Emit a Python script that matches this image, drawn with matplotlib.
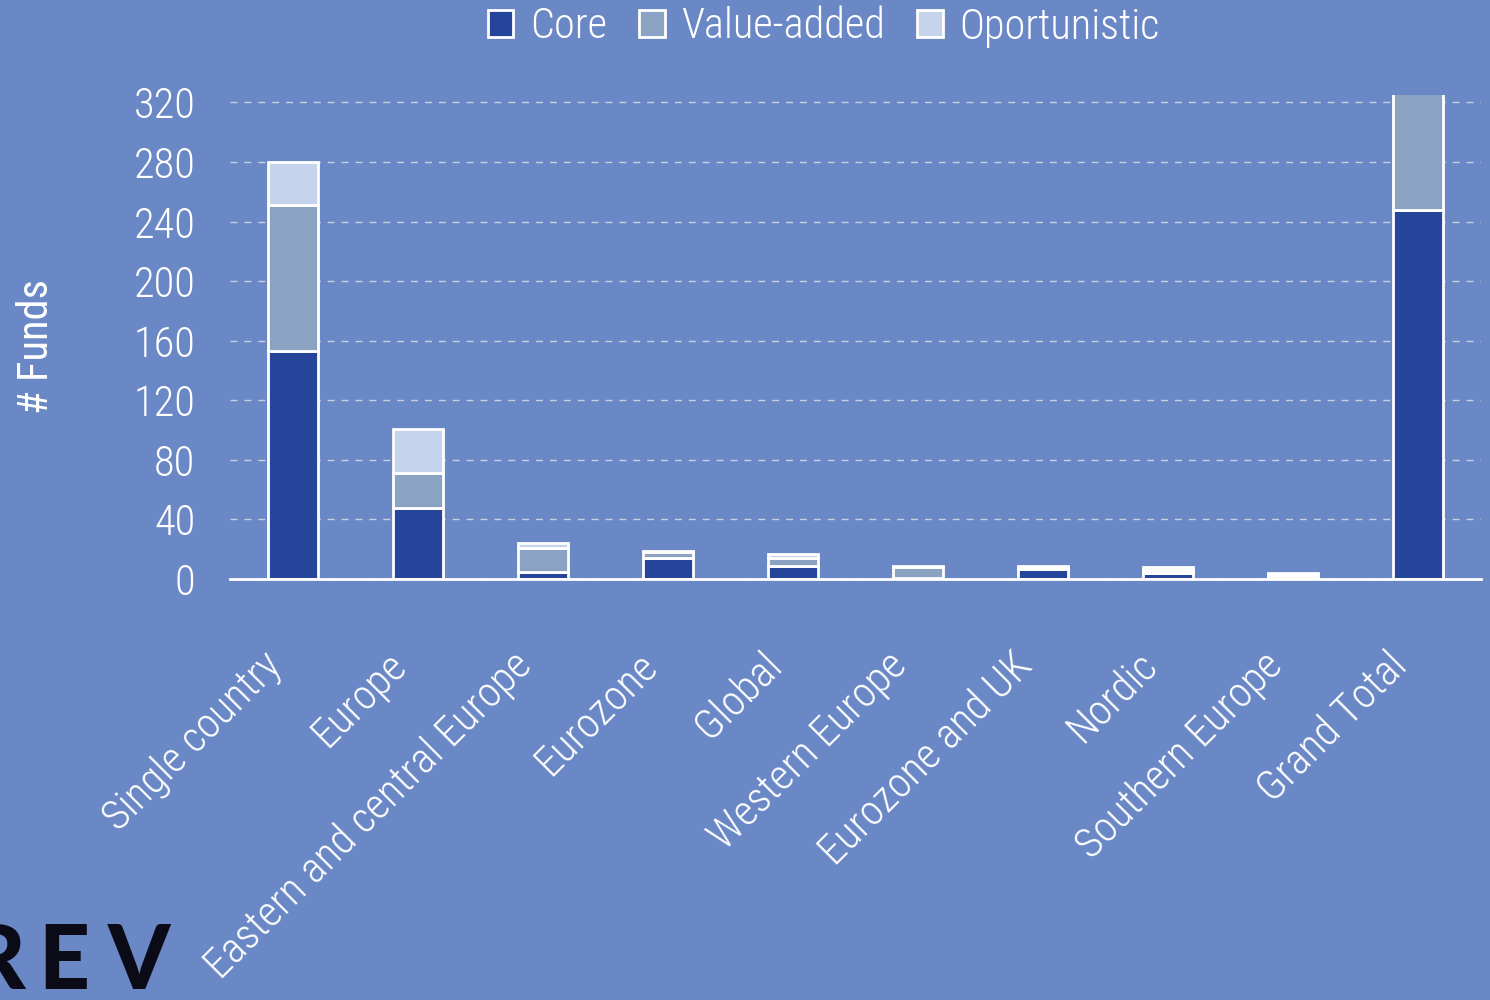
import matplotlib
matplotlib.use("Agg")
import matplotlib.pyplot as plt
import matplotlib.transforms as mtransforms
import numpy as np
from matplotlib.patches import Patch

categories = ["Single country", "Europe", "Eastern and central Europe", "Eurozone",
              "Global", "Western Europe", "Eurozone and UK", "Nordic",
              "Southern Europe", "Grand Total"]
core = [153, 48, 5, 14, 9, 1, 7, 4, 2, 248]
value_added = [98, 23, 16, 4, 5, 7, 1, 2, 1, 160]
opportunistic = [29, 30, 3, 1, 3, 1, 1, 2, 1, 72]
yticks = [0, 40, 80, 120, 160, 200, 240, 280, 320]

BG = "#6a87c6"
C_CORE = "#25459a"
C_VA = "#8aa3c3"
C_OPP = "#c5d4ec"
FONT = ["Roboto Condensed", "DejaVu Sans"]
FS = 30.5

plt.rcParams["font.family"] = FONT
plt.rcParams["font.weight"] = 300

fig = plt.figure(figsize=(14.9, 10), dpi=100, facecolor=BG)
ax = fig.add_axes([230/1490, 1 - 579/1000, 1251/1490, (579-95)/1000])
ax.set_facecolor(BG)

x = np.arange(len(categories))
w = 0.4
core_a = np.array(core)
va_a = np.array(value_added)
opp_a = np.array(opportunistic)
ax.bar(x, core_a, w, color=C_CORE, edgecolor="white", linewidth=2, zorder=3)
ax.bar(x, va_a, w, bottom=core_a, color=C_VA, edgecolor="white", linewidth=2, zorder=3)
ax.bar(x, opp_a, w, bottom=core_a + va_a, color=C_OPP, edgecolor="white", linewidth=2, zorder=3)

ax.set_xlim(-0.5, len(categories) - 0.5)
ax.set_ylim(0, 325)
ax.set_yticks(yticks)
ax.set_yticklabels([str(v) for v in yticks])
ax.yaxis.grid(True, linestyle=(0, (5, 5)), color="#c9d0de", linewidth=1.0, zorder=0)
ax.set_axisbelow(True)
for s in ["left", "right", "top"]:
    ax.spines[s].set_visible(False)
ax.spines["bottom"].set_color("white")
ax.spines["bottom"].set_linewidth(2)
ax.spines["bottom"].set_zorder(4)
ax.tick_params(axis="y", length=0, pad=25, labelsize=FS, labelcolor="white")
ax.tick_params(axis="x", length=0, pad=58, labelsize=FS, labelcolor="white")
ax.set_xticks(x)
ax.set_xticklabels(categories, rotation=45, ha="right", va="center", rotation_mode="anchor")
offset = mtransforms.ScaledTranslation(-17/100, 0, fig.dpi_scale_trans)
for lab in ax.get_xticklabels():
    lab.set_transform(lab.get_transform() + offset)

ax.set_ylabel("# Funds", fontsize=FS, color="white", va="center")
ax.yaxis.set_label_coords(-(230 - 36) / 1251, (579 - 347) / (579 - 95))

handles = [Patch(facecolor=C_CORE, edgecolor="white", linewidth=2, label="Core"),
           Patch(facecolor=C_VA, edgecolor="white", linewidth=2, label="Value-added"),
           Patch(facecolor=C_OPP, edgecolor="white", linewidth=2, label="Oportunistic")]
leg = fig.legend(handles=handles, loc="center", bbox_to_anchor=(0.553, 0.973), ncol=3,
                 frameon=False, fontsize=FS, handlelength=0.6, handleheight=0.6,
                 handletextpad=0.4, columnspacing=0.75, labelcolor="white")

logo_font = ["Lato", "DejaVu Sans"]
for letter, xp in [("R", -33), ("E", 38), ("V", 108)]:
    fig.text(xp/1490, 1 - 989/1000, letter, fontsize=64, fontweight=900, color="#0b0b18",
             family=logo_font, ha="left", va="baseline")

fig.savefig("out.png", dpi=100, facecolor=BG)
